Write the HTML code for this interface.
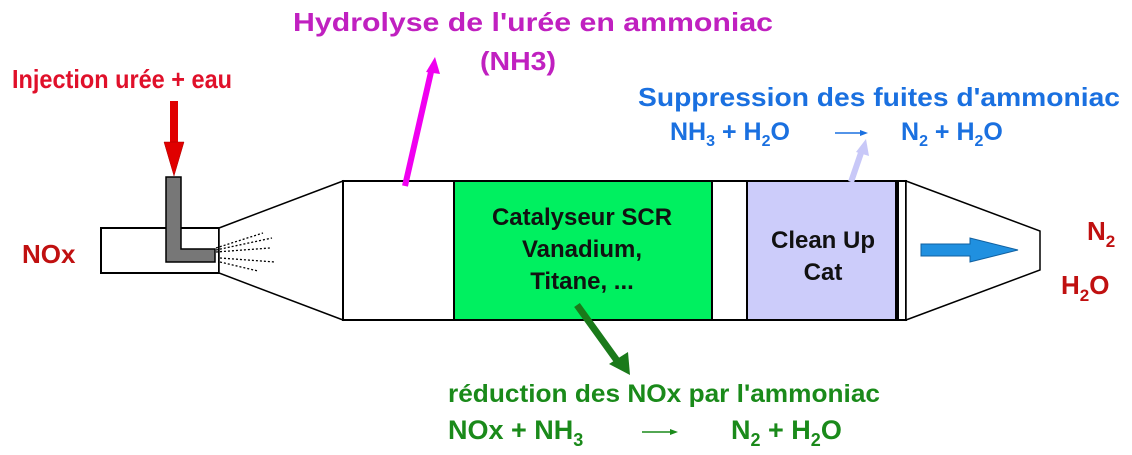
<!DOCTYPE html>
<html><head><meta charset="utf-8"><style>body{margin:0;background:#fff}svg{display:block}text{font-family:"Liberation Sans",Arial,sans-serif;font-weight:bold}</style></head><body>
<svg width="1132" height="455" viewBox="0 0 1132 455" xmlns="http://www.w3.org/2000/svg" xml:space="preserve">
<rect x="101" y="228" width="118" height="45" fill="#fff" stroke="#000" stroke-width="2"/>
<polygon points="219,228 343,181 343,320 219,273" fill="#fff" stroke="#000" stroke-width="1.5"/>
<rect x="343" y="181" width="563" height="139" fill="#fff" stroke="#000" stroke-width="2"/>
<rect x="454" y="181" width="258" height="139" fill="#00f060" stroke="#000" stroke-width="2"/>
<rect x="747" y="181" width="149" height="139" fill="#ccccfa" stroke="#000" stroke-width="2"/>
<line x1="898" y1="181" x2="898" y2="320" stroke="#000" stroke-width="2"/>
<polygon points="906,181 1040,231 1040,270 906,320" fill="#fff" stroke="#000" stroke-width="1.5"/>
<path d="M166,177 H181 V249 H215 V262 H166 Z" fill="#777" stroke="#000" stroke-width="1.5"/>
<g stroke="#000" stroke-width="1.3" stroke-dasharray="2,2">
<line x1="216" y1="248" x2="263" y2="233"/><line x1="216" y1="250" x2="272" y2="238"/>
<line x1="216" y1="252" x2="270" y2="248"/><line x1="220" y1="258" x2="275" y2="262"/>
<line x1="220" y1="262" x2="258" y2="271"/>
</g>
<rect x="170" y="101" width="8" height="45" fill="#e00000"/>
<polygon points="164,142 184,142 174,176" fill="#e00000" stroke="#a00" stroke-width="0.5"/>
<line x1="405" y1="186" x2="431" y2="72" stroke="#f000f0" stroke-width="6"/>
<polygon points="426,72 440,74 435,57" fill="#f000f0"/>
<line x1="851" y1="182" x2="862" y2="150" stroke="#c8c8f8" stroke-width="6"/>
<polygon points="856,152 869,156 866,139" fill="#c8c8f8"/>
<line x1="577" y1="305" x2="618" y2="362" stroke="#1a7a1a" stroke-width="7"/>
<polygon points="609,364 628,352 630,375" fill="#1a7a1a"/>
<polygon points="921,244 970,244 970,238 1018,250 970,262 970,256 921,256" fill="#2090e0" stroke="#1060a0" stroke-width="1"/>
<text x="12" y="88" font-size="26" fill="#e0102a" textLength="220" lengthAdjust="spacingAndGlyphs">Injection urée + eau</text>
<text x="293" y="31" font-size="26" fill="#c020c0" textLength="480" lengthAdjust="spacingAndGlyphs">Hydrolyse de l'urée en ammoniac</text>
<text x="480" y="70" font-size="26" fill="#c020c0" textLength="76" lengthAdjust="spacingAndGlyphs">(NH3)</text>
<text x="638" y="106" font-size="26" fill="#1a70e0" textLength="482" lengthAdjust="spacingAndGlyphs">Suppression des fuites d'ammoniac</text>
<text x="670" y="140" font-size="25" fill="#1a70e0">NH<tspan font-size="16" dy="6">3</tspan><tspan dy="-6"> +  H</tspan><tspan font-size="16" dy="6">2</tspan><tspan dy="-6">O</tspan></text>
<line x1="835" y1="133" x2="862" y2="133" stroke="#1a70e0" stroke-width="1.5"/><polygon points="860,130 868,133 860,136" fill="#1a70e0"/>
<text x="901" y="140" font-size="25" fill="#1a70e0">N<tspan font-size="16" dy="6">2</tspan><tspan dy="-6"> +  H</tspan><tspan font-size="16" dy="6">2</tspan><tspan dy="-6">O</tspan></text>
<text x="22" y="263" font-size="26" fill="#c01010">NOx</text>
<text x="1087" y="240" font-size="26" fill="#c01010">N<tspan font-size="17" dy="7">2</tspan></text>
<text x="1061" y="294" font-size="26" fill="#c01010">H<tspan font-size="17" dy="7">2</tspan><tspan dy="-7">O</tspan></text>
<g font-size="24" fill="#111" text-anchor="middle">
<text x="582" y="225">Catalyseur SCR</text>
<text x="582" y="257">Vanadium,</text>
<text x="582" y="289">Titane, ...</text>
<text x="823" y="248">Clean Up</text>
<text x="823" y="280">Cat</text>
</g>
<text x="448" y="402" font-size="25" fill="#1a8a1a" textLength="432" lengthAdjust="spacingAndGlyphs">réduction des  NOx  par l'ammoniac</text>
<text x="448" y="439" font-size="27" fill="#1a8a1a">NOx + NH<tspan font-size="18" dy="7">3</tspan></text>
<line x1="642" y1="432" x2="672" y2="432" stroke="#1a8a1a" stroke-width="1.5"/><polygon points="670,429 678,432 670,435" fill="#1a8a1a"/>
<text x="731" y="439" font-size="27" fill="#1a8a1a">N<tspan font-size="18" dy="7">2</tspan><tspan dy="-7"> + H</tspan><tspan font-size="18" dy="7">2</tspan><tspan dy="-7">O</tspan></text>
</svg>
</body></html>
